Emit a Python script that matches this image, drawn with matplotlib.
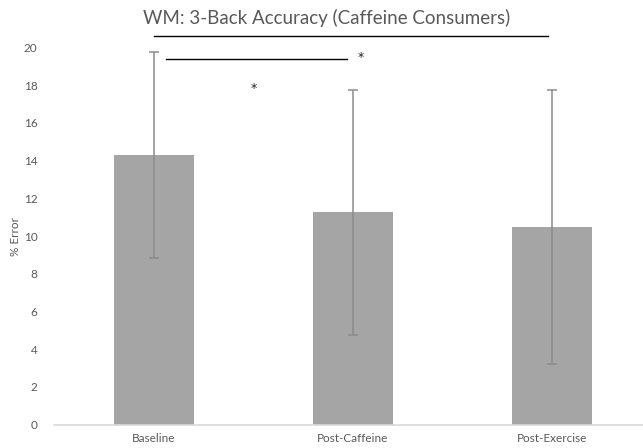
import matplotlib
matplotlib.use('Agg')
import matplotlib.pyplot as plt

# 3-back working memory results (% error)
groups = ['Baseline', 'Post-Caffeine', 'Post-Exercise']
mean_err = [14.3, 11.27, 10.48]
sd_err = [5.45, 6.5, 7.27]

# significance brackets: (x start, x end, height) and star positions
brackets = [(0.0, 1.98, 20.6), (0.06, 0.97, 19.4)]
stars = [(1.04, 19.45), (0.5, 17.85)]

plt.rcParams['font.family'] = ['Lato', 'DejaVu Sans']
grey_txt = '#595959'

fig = plt.figure(figsize=(6.43, 4.48), dpi=100)
ax = fig.add_axes([54 / 643, 23.5 / 448, 598 / 643, 377 / 448])

x = range(len(groups))
ax.bar(x, mean_err, width=0.4, color='#A5A5A5', zorder=2)
ax.errorbar(x, mean_err, yerr=sd_err, fmt='none', ecolor='#8C8C8C',
            elinewidth=1.1, capsize=3.5, capthick=1.1, zorder=3)

ax.set_xlim(-0.5, 2.5)
ax.set_ylim(0, 20)
ax.set_yticks(range(0, 21, 2))
ax.set_xticks(list(x))
ax.set_xticklabels(groups)
ax.tick_params(axis='both', length=0, labelsize=8.5, colors=grey_txt)
ax.tick_params(axis='y', pad=12)
ax.tick_params(axis='x', pad=6)

for side in ['top', 'right', 'left']:
    ax.spines[side].set_visible(False)
ax.spines['bottom'].set_color('#D9D9D9')
ax.spines['bottom'].set_linewidth(1.2)

ax.set_ylabel('% Error', color=grey_txt, fontsize=8.5, labelpad=2)

for x0, x1, h in brackets:
    ax.plot([x0, x1], [h, h], color='black', lw=1, clip_on=False)
for sx, sy in stars:
    ax.text(sx, sy, '*', ha='center', va='center', fontsize=9,
            family='DejaVu Sans', color='#222222')

fig.text(327 / 643, 1 - 18 / 448, 'WM: 3-Back Accuracy (Caffeine Consumers)',
         ha='center', va='center', fontsize=13.5, color=grey_txt)

fig.savefig('out.png', dpi=100)
